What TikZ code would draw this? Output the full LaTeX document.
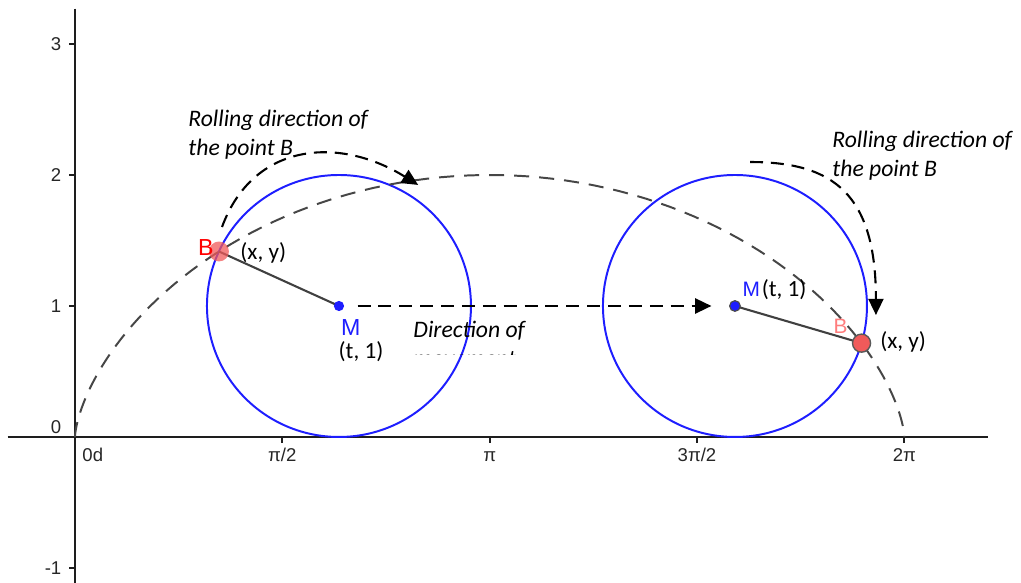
\documentclass[tikz,border=0pt]{standalone}
\usepackage{fontspec}
\setmainfont{Carlito}
\newfontfamily\arialfont{Liberation Sans}
\usetikzlibrary{arrows.meta}
\definecolor{ggblue}{RGB}{30,30,255}
\definecolor{ggred}{RGB}{240,90,90}
\definecolor{ggpink}{RGB}{255,125,125}
\definecolor{axiscol}{RGB}{30,30,30}
\definecolor{cycgray}{RGB}{70,70,70}
\tikzset{
  axisline/.style={draw=axiscol, line width=0.9pt},
  tickmark/.style={draw=axiscol, line width=0.8pt},
  ticklab/.style={font=\arialfont\fontsize{8}{9.5}\selectfont, text=black!85, inner sep=0pt},
  rollcircle/.style={draw=ggblue, line width=0.85pt},
  cyc/.style={draw=cycgray, line width=0.85pt, dash pattern=on 6.5pt off 4.3pt},
  arr/.style={draw=black, line width=0.9pt, dash pattern=on 5.6pt off 3.4pt, -{Triangle[length=7pt,width=6.5pt]}},
  radiusline/.style={draw=black!75, line width=0.9pt},
  mdot/.style={circle, fill=ggblue, inner sep=0pt, minimum size=4.4pt},
  mdottwo/.style={circle, fill=ggblue, draw=black!70, line width=0.5pt, inner sep=0pt, minimum size=4.6pt},
  bdotone/.style={circle, fill=ggred, fill opacity=0.75, inner sep=0pt, minimum size=8.6pt},
  bdottwo/.style={circle, fill=ggred, draw=black!65, line width=0.6pt, inner sep=0pt, minimum size=7.8pt},
  lab/.style={font=\fontsize{10}{12}\selectfont, inner sep=0pt},
  itlab/.style={font=\itshape\fontsize{10.2}{12.5}\selectfont, align=left, inner sep=0pt},
}
\begin{document}
\begin{tikzpicture}[x=2cm,y=1.9848cm]
\useasboundingbox (-0.568,-1.1145) rectangle (7.167,3.336);
% axes
\draw[axisline] (-0.51,0) -- (6.92,0);
\draw[axisline] (0,3.27) -- (0,-1.12);
\foreach \yy in {-1,1,2,3} \draw[tickmark] (-0.045,\yy) -- (0,\yy);
\foreach \xx in {1,2,3,4} \draw[tickmark] (\xx*pi/2,0) -- (\xx*pi/2,-0.045);
% tick labels
\node[ticklab, anchor=base east] (ly3) at (-0.1,2.947) {3};
\node[ticklab, anchor=base east] (ly2) at (-0.1,1.947) {2};
\node[ticklab, anchor=base east] (ly1) at (-0.1,0.947) {1};
\node[ticklab, anchor=base east] (ly0) at (-0.1,0.03) {0};
\node[ticklab, anchor=base east] (lym) at (-0.1,-1.053) {-1};
\node[ticklab, anchor=base west] (lx0) at (0.053,-0.19) {0d};
\node[ticklab, anchor=base] (lx1) at (pi/2,-0.19) {π/2};
\node[ticklab, anchor=base] (lx2) at (pi,-0.19) {π};
\node[ticklab, anchor=base] (lx3) at (3*pi/2,-0.19) {3π/2};
\node[ticklab, anchor=base] (lx4) at (2*pi,-0.19) {2π};
% rolling circles
\draw[rollcircle] (2,1) circle (1);
\draw[rollcircle] (5,1) circle (1);
% cycloid
\draw[cyc] plot[domain=0:2*pi, samples=120, variable=\t] ({\t - sin(\t r)}, {1 - cos(\t r)});
% centres and points
\coordinate (B1c) at ({2 - sin(2 r)},{1 - cos(2 r)});
\coordinate (B2c) at ({5 - sin(5 r)},{1 - cos(5 r)});
\draw[radiusline] (2,1) -- (B1c);
\draw[radiusline] (5,1) -- (B2c);
\node[mdot] (M1) at (2,1) {};
\node[mdottwo] (M2) at (5,1) {};
\node[bdotone] (B1) at (B1c) {};
\node[bdottwo] (B2) at (B2c) {};
% direction of movement
\draw[arr, shorten <=5.6pt, shorten >=7.6pt] (M1) -- (M2);
% rolling direction arrows
\coordinate (r1s) at (1.114,1.603);
\coordinate (r1e) at (2.6,1.924);
\draw[arr] (r1s) .. controls (1.35,2.25) and (2.0,2.3) .. (r1e);
\coordinate (r2s) at (5.114,2.099);
\coordinate (r2e) at (6.068,0.931);
\draw[arr] (r2s) .. controls (5.75,2.1) and (6.068,1.85) .. (r2e);
% labels
\node[lab, text=red, font=\arialfont\fontsize{10}{12}\selectfont] (Bl1) at (0.992,1.450) {B};
\node[lab, anchor=west] (xy1) at (1.25,1.405) {(x, y)};
\node[lab, text=ggblue, font=\arialfont\fontsize{10}{12}\selectfont] (Ml1) at (2.09,0.832) {M};
\node[lab] (t1) at (2.167,0.649) {(t, 1)};
\node[lab, text=ggpink, font=\arialfont\fontsize{9}{11}\selectfont] (Bl2) at (5.80,0.847) {B};
\node[lab, anchor=west] (xy2) at (6.098,0.725) {(x, y)};
\node[lab, anchor=west, text=ggblue, font=\arialfont\fontsize{9}{11}\selectfont] (Ml2) at (5.055,1.128) {M};
\node[lab, anchor=west] (t2) at (5.2,1.122) {(t, 1)};
\node[itlab, anchor=north west] (roll1) at (0.856,2.496) {Rolling direction of\\the point B};
\node[itlab, anchor=north west] (roll2) at (5.735,2.336) {Rolling direction of\\the point B};
\begin{scope}
\clip (-0.568,0.626) rectangle (7.167,3.336);
\node[itlab, anchor=north west] (dir) at (2.561,0.885) {Direction of\\movement};
\end{scope}
\end{tikzpicture}
\end{document}
